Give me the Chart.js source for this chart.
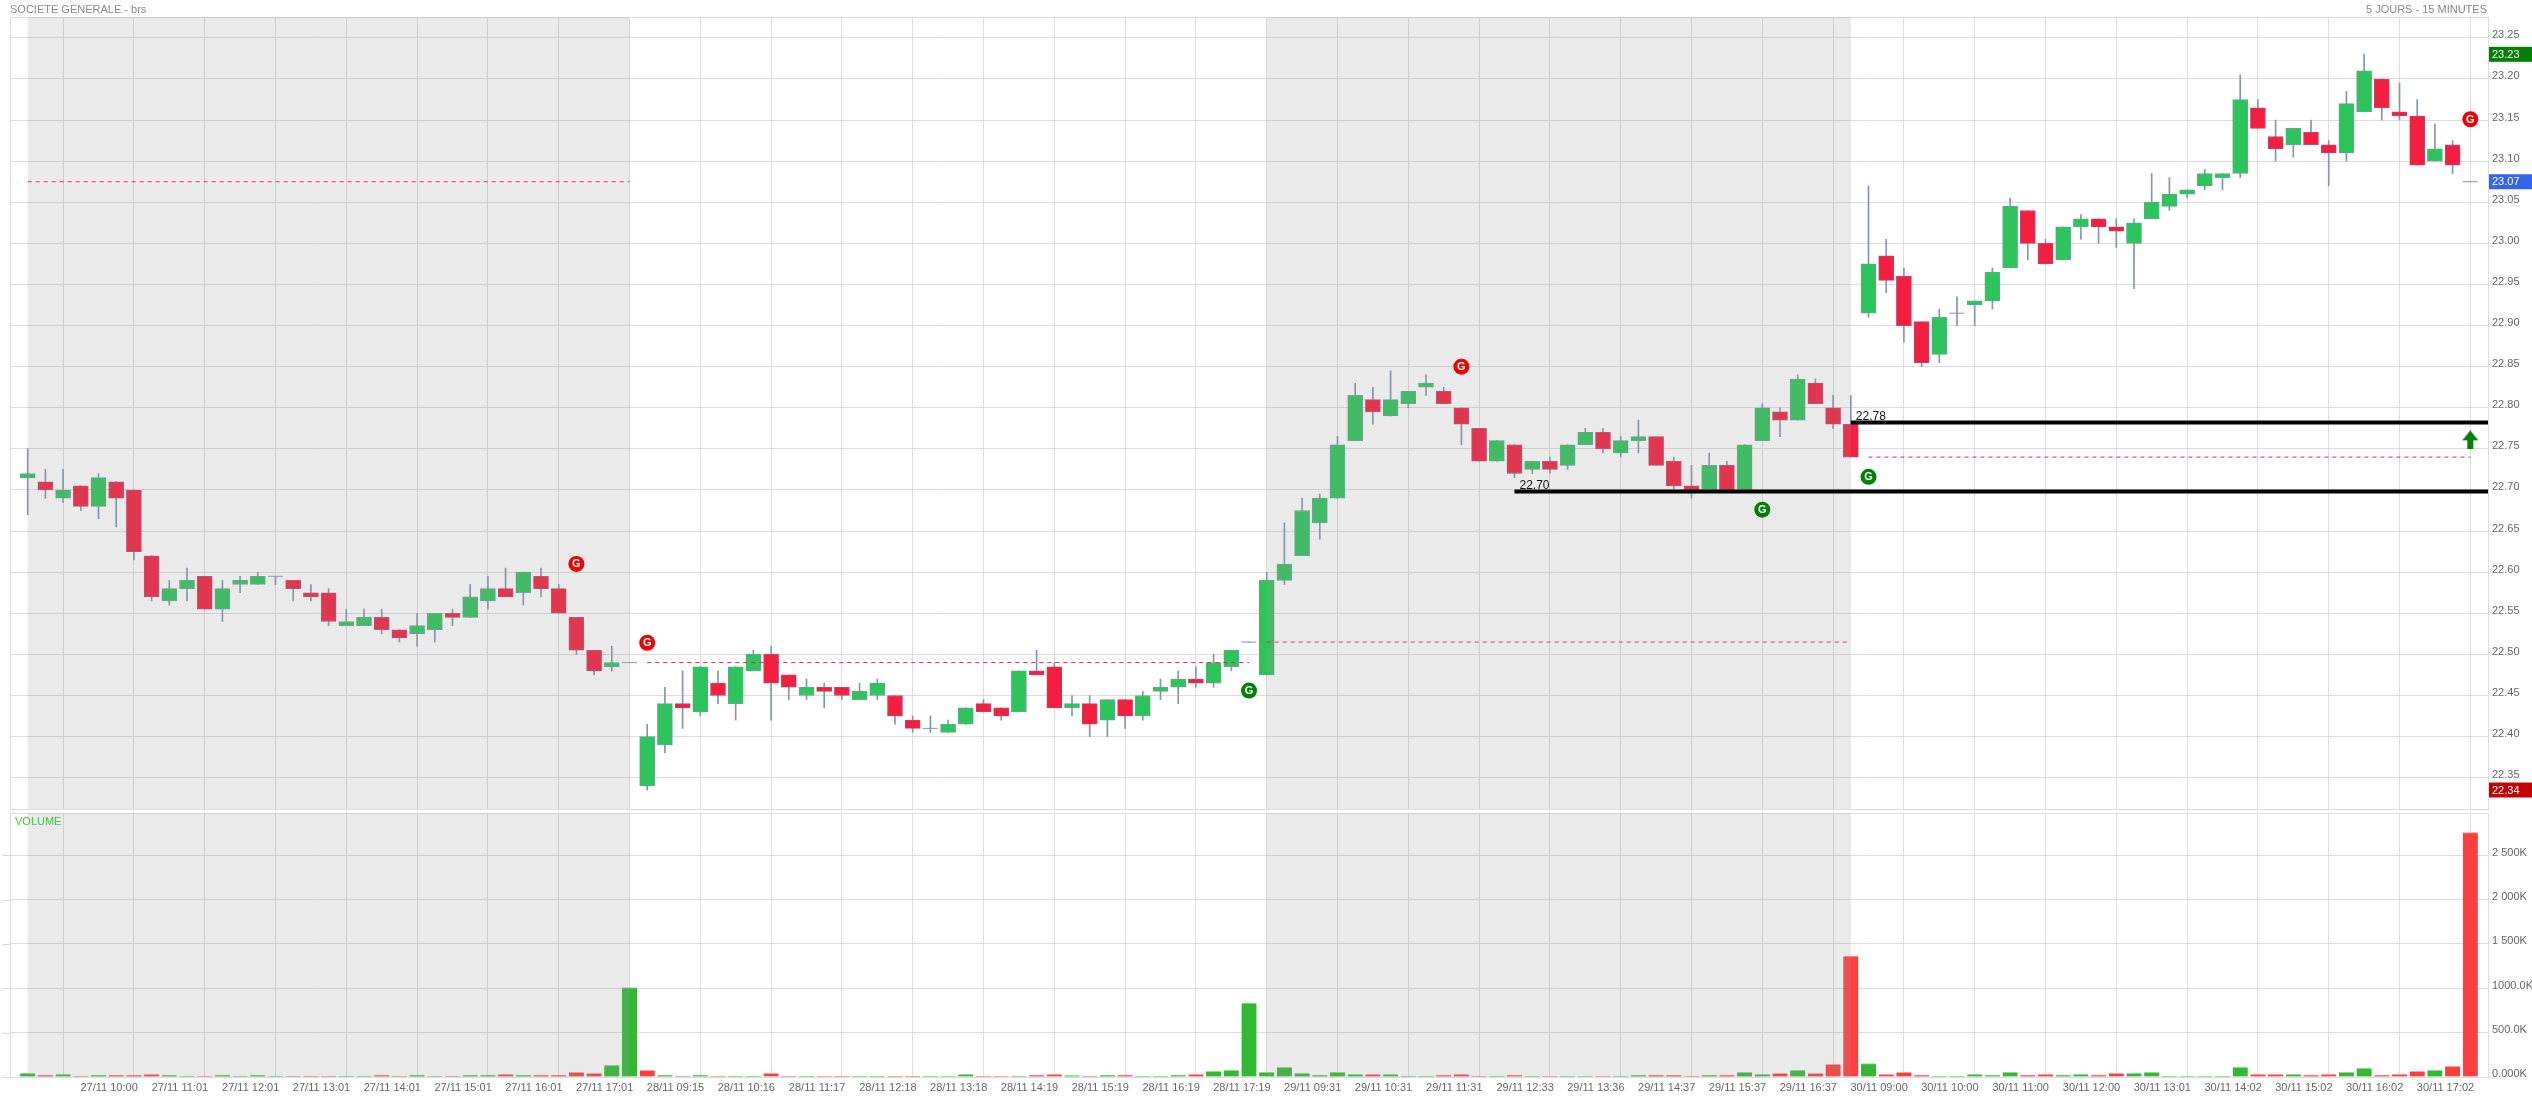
<!DOCTYPE html>
<html>
<head>
<meta charset="utf-8">
<title>SOCIETE GENERALE - brs</title>
<script src="https://cdn.jsdelivr.net/npm/chart.js@4"></script>
<style>
  html, body { margin: 0; background: #fff; overflow: hidden; }
  canvas { position: absolute; left: 0; }
  #price-chart { top: 0; }
  #volume-chart { top: 811px; }
</style>
</head>
<body>
<canvas id="price-chart" width="2532" height="811"></canvas>
<canvas id="volume-chart" width="2532" height="286"></canvas>
<script>
// 15 minute candles, bar 0 to bar 138
var opens = [22.715,22.71,22.69,22.705,22.68,22.71,22.70,22.62,22.565,22.58,22.595,22.555,22.585,22.585,22.595,22.59,22.575,22.575,22.535,22.535,22.545,22.53,22.525,22.53,22.55,22.545,22.565,22.58,22.575,22.595,22.58,22.545,22.505,22.485,22.49,
  22.34,22.39,22.44,22.43,22.465,22.44,22.48,22.50,22.475,22.45,22.46,22.46,22.445,22.45,22.45,22.42,22.41,22.405,22.415,22.44,22.435,22.43,22.48,22.485,22.435,22.44,22.42,22.445,22.425,22.455,22.46,22.47,22.465,22.485,22.515,
  22.475,22.59,22.62,22.66,22.69,22.76,22.81,22.79,22.805,22.825,22.82,22.80,22.775,22.735,22.755,22.725,22.735,22.73,22.755,22.77,22.745,22.76,22.765,22.735,22.705,22.70,22.73,22.70,22.76,22.795,22.785,22.83,22.80,22.78,
  22.915,22.985,22.96,22.905,22.865,22.915,22.925,22.93,22.97,23.04,23.00,22.98,23.02,23.03,23.02,23.00,23.03,23.045,23.06,23.07,23.08,23.085,23.165,23.13,23.12,23.135,23.12,23.11,23.16,23.20,23.16,23.155,23.10,23.12,23.075];
var highs = [22.75,22.725,22.725,22.705,22.72,22.71,22.70,22.62,22.59,22.605,22.595,22.59,22.595,22.60,22.595,22.59,22.585,22.58,22.555,22.555,22.555,22.53,22.55,22.55,22.555,22.585,22.595,22.605,22.60,22.605,22.585,22.545,22.505,22.51,22.49,
  22.415,22.46,22.48,22.485,22.48,22.485,22.505,22.51,22.475,22.47,22.465,22.46,22.465,22.47,22.45,22.425,22.425,22.42,22.435,22.445,22.435,22.48,22.505,22.49,22.45,22.45,22.445,22.445,22.455,22.47,22.48,22.485,22.50,22.505,22.515,
  22.60,22.66,22.69,22.695,22.765,22.83,22.825,22.845,22.82,22.84,22.825,22.80,22.775,22.76,22.755,22.735,22.74,22.755,22.775,22.775,22.765,22.785,22.765,22.74,22.73,22.745,22.735,22.755,22.805,22.80,22.84,22.835,22.815,22.815,
  23.07,23.005,22.97,22.905,22.92,22.935,22.93,22.97,23.055,23.04,23.005,23.02,23.035,23.03,23.03,23.03,23.085,23.08,23.065,23.09,23.085,23.205,23.175,23.15,23.14,23.15,23.125,23.185,23.23,23.20,23.195,23.175,23.145,23.125,23.075];
var lows = [22.67,22.69,22.685,22.675,22.665,22.655,22.615,22.565,22.56,22.565,22.555,22.54,22.575,22.585,22.585,22.565,22.565,22.535,22.535,22.535,22.525,22.515,22.51,22.515,22.535,22.545,22.555,22.57,22.56,22.57,22.55,22.50,22.475,22.48,22.49,
  22.335,22.38,22.41,22.425,22.44,22.42,22.48,22.42,22.445,22.445,22.435,22.445,22.445,22.445,22.415,22.405,22.405,22.405,22.415,22.43,22.42,22.43,22.475,22.435,22.425,22.40,22.40,22.41,22.42,22.445,22.44,22.46,22.46,22.48,22.515,
  22.475,22.585,22.62,22.64,22.69,22.76,22.78,22.79,22.80,22.815,22.805,22.755,22.735,22.735,22.715,22.72,22.72,22.725,22.755,22.745,22.74,22.745,22.73,22.70,22.69,22.70,22.70,22.70,22.76,22.765,22.785,22.805,22.775,22.74,
  22.91,22.94,22.88,22.85,22.855,22.90,22.90,22.92,22.97,22.98,22.975,22.98,23.005,23.00,22.995,22.945,23.03,23.04,23.055,23.065,23.065,23.08,23.14,23.10,23.105,23.12,23.07,23.10,23.16,23.15,23.15,23.095,23.10,23.085,23.075];
var closes = [22.72,22.70,22.70,22.68,22.715,22.69,22.625,22.57,22.58,22.59,22.555,22.58,22.59,22.595,22.595,22.58,22.57,22.54,22.54,22.545,22.53,22.52,22.535,22.55,22.545,22.57,22.58,22.57,22.60,22.58,22.55,22.505,22.48,22.49,22.49,
  22.40,22.44,22.435,22.485,22.45,22.485,22.50,22.465,22.46,22.46,22.455,22.45,22.455,22.465,22.425,22.41,22.41,22.415,22.435,22.43,22.425,22.48,22.475,22.435,22.44,22.415,22.445,22.425,22.45,22.46,22.47,22.465,22.49,22.505,22.515,
  22.59,22.61,22.675,22.69,22.755,22.815,22.795,22.81,22.82,22.83,22.805,22.78,22.735,22.76,22.72,22.735,22.725,22.755,22.77,22.75,22.76,22.765,22.73,22.705,22.70,22.73,22.70,22.755,22.80,22.785,22.835,22.805,22.78,22.74,
  22.975,22.955,22.90,22.855,22.91,22.915,22.93,22.965,23.045,23.00,22.975,23.02,23.03,23.02,23.015,23.025,23.05,23.06,23.065,23.085,23.085,23.175,23.14,23.115,23.14,23.12,23.11,23.17,23.21,23.165,23.155,23.095,23.115,23.095,23.075];

// volume in K, and which way each bar went
var volumes = [41,19,30,11,19,19,19,30,19,11,11,19,11,19,11,11,11,11,10,11,19,11,19,11,11,19,19,30,19,19,19,53,41,132,1009,
  75,19,11,19,11,9,9,41,11,9,11,10,9,7,7,7,9,11,30,8,11,8,19,30,15,11,19,19,11,11,19,30,64,75,832,
  53,109,41,19,53,30,30,30,11,8,19,30,11,11,19,8,8,8,11,11,11,19,19,19,11,19,19,53,30,41,75,41,143,1363,
  150,30,53,19,8,8,30,19,53,19,30,19,30,19,41,41,53,8,11,11,8,109,30,30,30,19,30,53,98,19,30,64,75,120,2754];
var volumeDirs = ['g','r','g','r','g','r','r','r','g','g','r','g','g','g','g','r','r','r','g','g','r','r','g','g','r','g','g','r','g','r','r','r','r','g','g',
  'r','g','r','g','r','g','g','r','r','g','r','r','g','g','r','r','g','g','g','r','r','g','r','r','g','r','g','r','g','g','g','r','g','g','g',
  'g','g','g','g','g','g','r','g','g','g','r','r','r','g','r','g','r','g','g','r','g','g','r','r','r','g','r','g','g','r','g','r','r','r',
  'g','r','r','r','g','g','g','g','g','r','r','g','g','r','r','g','g','g','g','g','g','g','r','r','g','r','r','g','g','r','r','r','g','r','r'];

var tickBars = [4,8,12,16,20,24,28,32,36,40,44,48,52,56,60,64,68,72,76,80,84,88,92,96,100,104,108,112,116,120,124,128,132,136];
var tickLabels = ['27/11 10:00','27/11 11:01','27/11 12:01','27/11 13:01','27/11 14:01','27/11 15:01','27/11 16:01','27/11 17:01',
  '28/11 09:15','28/11 10:16','28/11 11:17','28/11 12:18','28/11 13:18','28/11 14:19','28/11 15:19','28/11 16:19','28/11 17:19',
  '29/11 09:31','29/11 10:31','29/11 11:31','29/11 12:33','29/11 13:36','29/11 14:37','29/11 15:37','29/11 16:37',
  '30/11 09:00','30/11 10:00','30/11 11:00','30/11 12:00','30/11 13:01','30/11 14:02','30/11 15:02','30/11 16:02','30/11 17:02'];
var priceTicks = [22.35,22.40,22.45,22.50,22.55,22.60,22.65,22.70,22.75,22.80,22.85,22.90,22.95,23.00,23.05,23.10,23.15,23.20,23.25];
var volumeTicks = [0,500,1000,1500,2000,2500];
var volumeTickLabels = ['0.000K','500.0K','1000.0K','1 500K','2 000K','2 500K'];

// shaded sessions, as first and last bar
var bandStart = [0,70];
var bandEnd = [34,103];

// dashed previous-close lines
var dashStart = [0,35,70,104];
var dashEnd = [34,69,103,138];
var dashPrice = [23.075,22.49,22.515,22.74];

// thick black levels
var levelStart = [84,103];
var levelPrice = [22.698,22.782];
var levelText = ['22.70','22.78'];

// G signals
var signalBar = [31,35,69,81,98,104,138];
var signalPrice = [22.61,22.514,22.456,22.85,22.676,22.716,23.151];
var signalDir = ['r','r','g','r','g','g','r'];

var arrowBar = [138];
var arrowPrice = [22.761];

// last / high / low tags on the price axis
var tagPrice = [23.23,23.075,22.335];
var tagText = ['23.23','23.07','22.34'];
var tagColor = ['#008000','#3366f0','#c40000'];

var FONT = '"Liberation Sans"';
var GRID = '#dddddd';
var bars = opens.map(function (o, i) { return i; });
var isDoji = function (i) { return opens[i] === closes[i]; };

function xAxis(showLabels) {
  return {
    type: 'linear', min: -1, max: 139, offset: false,
    afterBuildTicks: function (s) { s.ticks = tickBars.map(function (v) { return { value: v }; }); },
    afterFit: function (s) { s.height = showLabels ? 20 : 0; s.paddingLeft = 0; s.paddingRight = 0; },
    grid: { color: GRID, lineWidth: 1, drawTicks: false },
    border: { display: false },
    ticks: {
      display: showLabels, autoSkip: false, maxRotation: 0, padding: 4, labelOffset: 10.6,
      color: '#666', font: { family: FONT, size: 11 },
      callback: function (v, i) { return tickLabels[i]; }
    }
  };
}

function yAxis(min, max, values, labelOf) {
  return {
    position: 'right', min: min, max: max,
    afterBuildTicks: function (s) { s.ticks = values.map(function (v) { return { value: v }; }); },
    // labels may overhang the panel, the layout must not shrink for them
    afterFit: function (s) { s.width = 2532 - 2488; s.paddingTop = 0; s.paddingBottom = 0; },
    grid: { color: GRID, lineWidth: 1, drawTicks: false },
    border: { display: false },
    ticks: { padding: 4, labelOffset: -2.6, color: '#666', font: { family: FONT, size: 11 }, callback: labelOf }
  };
}

// band goes over the marks, that is what mutes the candles inside a session
function drawBands(chart) {
  var a = chart.chartArea, x = chart.scales.x, c = chart.ctx;
  c.save();
  c.fillStyle = 'rgba(150,150,150,0.2)';
  bandStart.forEach(function (b, i) {
    var l = x.getPixelForValue(b), r = x.getPixelForValue(bandEnd[i]);
    c.fillRect(l, a.top, r - l, a.bottom - a.top);
  });
  c.restore();
}

function drawFrame(chart) {
  var a = chart.chartArea, c = chart.ctx;
  c.save();
  c.strokeStyle = GRID;
  c.lineWidth = 1;
  c.strokeRect(Math.round(a.left) + 0.5, Math.round(a.top) + 0.5, Math.round(a.right - a.left), Math.round(a.bottom - a.top));
  c.restore();
}

function makeArrow() {
  var cv = document.createElement('canvas');
  cv.width = 16; cv.height = 19;
  var c = cv.getContext('2d');
  c.fillStyle = '#008000';
  c.beginPath();
  c.moveTo(8, 0); c.lineTo(16, 10); c.lineTo(11, 10); c.lineTo(11, 19); c.lineTo(5, 19); c.lineTo(5, 10); c.lineTo(0, 10);
  c.closePath();
  c.fill();
  return cv;
}

var pricePlugin = {
  id: 'priceExtras',
  afterDatasetDraw: function (chart, args) {
    if (chart.data.datasets[args.index].label === 'dojis') drawBands(chart);
  },
  beforeDatasetsDraw: drawFrame,
  afterDraw: function (chart) {
    var c = chart.ctx, x = chart.scales.x, y = chart.scales.y;
    c.save();
    c.textBaseline = 'middle';

    c.font = '11px ' + FONT;
    c.fillStyle = '#888';
    c.textAlign = 'left';
    c.fillText('SOCIETE GENERALE - brs', 10, 9.5);
    c.textAlign = 'right';
    c.fillText('5 JOURS - 15 MINUTES', 2487, 9.5);

    // level captions sit just above their line
    c.font = '12px ' + FONT;
    c.fillStyle = '#111';
    c.textAlign = 'left';
    levelText.forEach(function (t, i) {
      c.fillText(t, x.getPixelForValue(levelStart[i]) + 5, y.getPixelForValue(levelPrice[i]) - 6.3);
    });

    c.font = 'bold 11px ' + FONT;
    c.fillStyle = '#fff';
    c.textAlign = 'center';
    signalBar.forEach(function (b, i) {
      c.fillText('G', x.getPixelForValue(b), y.getPixelForValue(signalPrice[i]) + 0.5);
    });

    c.font = '11px ' + FONT;
    c.textAlign = 'left';
    tagPrice.forEach(function (p, i) {
      var py = y.getPixelForValue(p);
      c.fillStyle = tagColor[i];
      c.fillRect(2489, py - 7.5, 43, 15);
      c.fillStyle = '#fff';
      c.fillText(tagText[i], 2492, py + 0.5);
    });
    c.restore();
  }
};

var volumePlugin = {
  id: 'volumeExtras',
  afterDatasetDraw: function (chart) { drawBands(chart); },
  beforeDatasetsDraw: function (chart) {
    var c = chart.ctx, y = chart.scales.y;
    drawFrame(chart);
    c.save();
    c.strokeStyle = GRID;
    c.beginPath();
    volumeTicks.forEach(function (v) {
      var py = Math.round(y.getPixelForValue(v)) + 0.5;
      c.moveTo(2, py); c.lineTo(10, py);
    });
    c.stroke();
    c.restore();
  },
  afterDraw: function (chart) {
    var c = chart.ctx;
    c.save();
    c.font = '11px ' + FONT;
    c.fillStyle = '#3cc83c';
    c.textBaseline = 'middle';
    c.fillText('VOLUME', 15, 11);
    c.restore();
  }
};

var priceSets = [];
priceSets.push({
  type: 'line', label: 'signals', order: 0, showLine: false,
  data: signalBar.map(function (b, i) { return { x: b, y: signalPrice[i] }; }),
  pointRadius: 8, pointBorderWidth: 0,
  pointBackgroundColor: signalDir.map(function (d) { return d === 'r' ? '#f00000' : '#008000'; })
});
priceSets.push({
  type: 'line', label: 'arrow', order: 0, showLine: false,
  data: arrowBar.map(function (b, i) { return { x: b, y: arrowPrice[i] }; }),
  pointStyle: makeArrow(), pointRadius: 8
});
levelStart.forEach(function (b, i) {
  priceSets.push({
    type: 'line', label: 'level', order: 1, borderColor: '#000', borderWidth: 4, pointRadius: 0,
    data: [{ x: b, y: levelPrice[i] }, { x: 139, y: levelPrice[i] }]
  });
});
priceSets.push({
  type: 'line', label: 'dojis', order: 3, showLine: false,
  data: bars.filter(isDoji).map(function (i) { return { x: i, y: opens[i] }; }),
  pointStyle: 'line', pointRadius: 7.5, pointBorderColor: '#8096b3', pointBorderWidth: 1
});
dashStart.forEach(function (b, i) {
  priceSets.push({
    type: 'line', label: 'dash', order: 3.5, borderColor: '#f0203f', borderWidth: 1, borderDash: [4, 4], pointRadius: 0,
    data: [{ x: b, y: dashPrice[i] }, { x: dashEnd[i], y: dashPrice[i] }]
  });
});
priceSets.push({
  label: 'bodies', order: 4, grouped: false, barThickness: 15, borderSkipped: false, borderWidth: 1,
  data: bars.map(function (i) { return { x: i, y: isDoji(i) ? null : [opens[i], closes[i]] }; }),
  backgroundColor: bars.map(function (i) { return closes[i] > opens[i] ? '#2dc45b' : '#f41e3e'; }),
  borderColor: bars.map(function (i) { return closes[i] > opens[i] ? '#5fa98c' : '#c0466f'; })
});
priceSets.push({
  label: 'wicks', order: 5, grouped: false, barThickness: 1, borderWidth: 0,
  data: bars.map(function (i) { return { x: i, y: [lows[i], highs[i]] }; }),
  backgroundColor: '#8096b3'
});

new Chart(document.getElementById('price-chart'), {
  type: 'bar',
  data: { datasets: priceSets },
  plugins: [pricePlugin],
  options: {
    responsive: false, animation: false, devicePixelRatio: 1,
    // the point radius must not pull the panel in from the bottom
    layout: { autoPadding: false, padding: { left: 10, top: 17, bottom: 2, right: 0 } },
    plugins: { legend: { display: false }, tooltip: { enabled: false } },
    scales: {
      x: xAxis(false),
      y: yAxis(22.3119, 23.2754, priceTicks, function (v) { return v.toFixed(2); })
    }
  }
});

new Chart(document.getElementById('volume-chart'), {
  type: 'bar',
  data: {
    datasets: [{
      label: 'volume', barThickness: 15,
      data: bars.map(function (i) { return { x: i, y: volumes[i] }; }),
      backgroundColor: bars.map(function (i) { return volumeDirs[i] === 'g' ? '#33b833' : '#ff3e3e'; }),
      borderColor: bars.map(function (i) { return volumeDirs[i] === 'g' ? '#8fd98f' : '#ffa0a0'; }),
      borderWidth: { top: 1, left: 0, right: 0, bottom: 0 }
    }]
  },
  plugins: [volumePlugin],
  options: {
    responsive: false, animation: false, devicePixelRatio: 1,
    layout: { autoPadding: false, padding: { left: 10, top: 2, bottom: 0, right: 0 } },
    plugins: { legend: { display: false }, tooltip: { enabled: false } },
    scales: {
      x: xAxis(true),
      y: yAxis(0, 2976, volumeTicks, function (v, i) { return volumeTickLabels[i]; })
    }
  }
});
</script>
</body>
</html>
